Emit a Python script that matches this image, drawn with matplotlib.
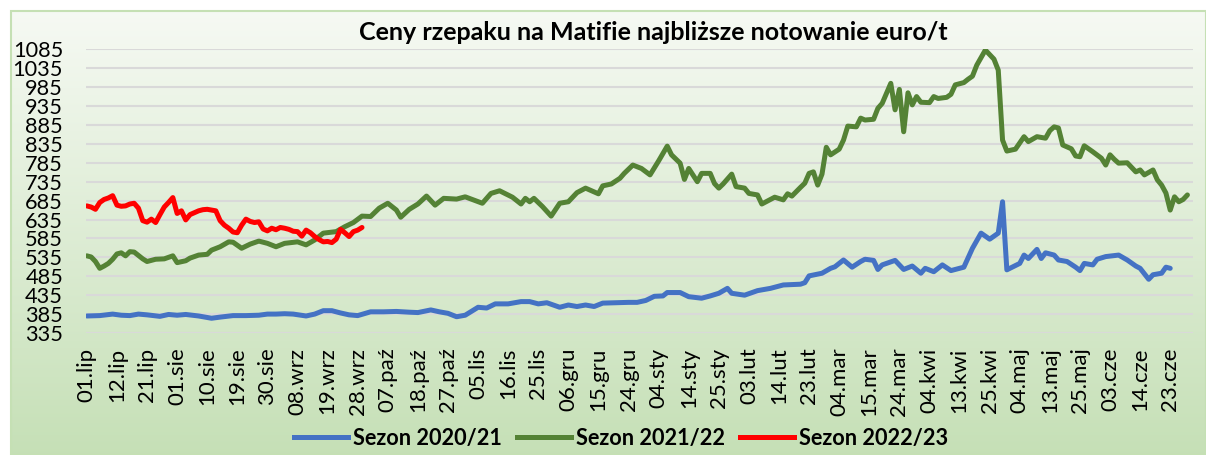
import numpy as np
import matplotlib
matplotlib.use("Agg")
import matplotlib.pyplot as plt
from matplotlib.patches import Rectangle
from matplotlib.lines import Line2D

plt.rcParams['font.family'] = ['Lato', 'DejaVu Sans']

# category axis: trading days of a season, labels every 7 sessions
n_days = 258
tick_labels = ["01.lip", "12.lip", "21.lip", "01.sie", "10.sie", "19.sie", "30.sie",
               "08.wrz", "19.wrz", "28.wrz", "07.paź", "18.paź", "27.paź", "05.lis",
               "16.lis", "25.lis", "06.gru", "15.gru", "24.gru", "04.sty", "14.sty",
               "25.sty", "03.lut", "14.lut", "23.lut", "04.mar", "15.mar", "24.mar",
               "04.kwi", "13.kwi", "25.kwi", "04.maj", "13.maj", "25.maj", "03.cze",
               "14.cze", "23.cze"]
yticks = list(range(335, 1086, 50))

# Sezon 2020/21 (blue)
day_2021 = [0, 3, 6, 8, 10, 12, 14, 17, 19, 21, 23, 26, 29, 31, 34, 37, 40, 42, 44, 46,
            48, 51, 53, 55, 57, 59, 61, 63, 66, 69, 72, 75, 77, 80, 82, 84, 86, 88, 91, 93,
            95, 98, 101, 103, 105, 107, 110, 112, 114, 116, 118, 120, 123, 126, 128, 130,
            132, 134, 135, 138, 140, 143, 145, 147, 149, 150, 153, 156, 159, 162, 166, 167,
            168, 171, 173, 174, 176, 178, 180, 181, 183, 184, 185, 188, 190, 192, 194, 195,
            197, 199, 201, 204, 206, 208, 210, 212, 213, 214, 217, 218, 219, 221, 222, 223,
            225, 226, 228, 230, 231, 232, 234, 235, 237, 240, 242, 244, 245, 247, 248, 250,
            251, 252]
val_2021 = [380, 381, 385, 382, 381, 385, 383, 379, 384, 382, 384, 380, 374, 377, 381, 381,
            382, 385, 385, 386, 385, 380, 385, 394, 394, 388, 383, 381, 391, 391, 392, 390,
            389, 396, 391, 387, 378, 382, 403, 401, 412, 412, 418, 418, 412, 415, 403, 409,
            405, 409, 405, 414, 415, 416, 416, 421, 432, 433, 442, 442, 431, 427, 433, 440,
            453, 440, 435, 447, 453, 462, 464, 468, 486, 493, 506, 510, 528, 509, 524, 530,
            527, 503, 515, 527, 503, 512, 493, 506, 497, 515, 500, 509, 559, 599, 583, 599,
            682, 502, 519, 541, 532, 556, 532, 547, 541, 528, 524, 509, 500, 519, 515, 530,
            537, 541, 528, 512, 506, 477, 489, 493, 509, 506]

# Sezon 2021/22 (green)
day_2122 = [0, 1, 2, 3, 4, 5, 6, 7, 8, 9, 10, 11, 12, 13, 14, 16, 18, 20, 21, 23, 24, 26,
            28, 29, 31, 33, 34, 36, 38, 40, 42, 44, 46, 49, 51, 53, 55, 58, 60, 62, 64, 66,
            68, 70, 72, 73, 75, 77, 79, 81, 83, 86, 88, 92, 94, 96, 99, 101, 102, 103, 104,
            106, 108, 110, 112, 114, 116, 119, 120, 122, 124, 125, 127, 129, 131, 133, 135,
            136, 138, 139, 140, 142, 143, 145, 146, 147, 148, 150, 151, 153, 154, 156, 157,
            158, 160, 162, 163, 164, 166, 167, 168, 169, 170, 171, 172, 173, 175, 176, 177,
            179, 180, 181, 183, 184, 185, 187, 188, 189, 190, 191, 192, 193, 194, 196, 197,
            198, 200, 201, 202, 204, 205, 206, 207, 209, 210, 211, 212, 213, 214, 216, 218,
            219, 221, 223, 224, 225, 226, 227, 229, 230, 231, 232, 234, 236, 237, 238, 239,
            240, 242, 244, 245, 246, 248, 249, 250, 251, 252, 253, 254, 255, 256]
val_2122 = [539, 536, 524, 506, 512, 519, 530, 544, 547, 539, 550, 549, 540, 531, 524, 530,
            531, 539, 521, 526, 533, 541, 543, 554, 563, 576, 575, 559, 570, 578, 572, 563,
            572, 576, 568, 581, 599, 603, 616, 627, 644, 643, 665, 678, 660, 641, 662, 676,
            697, 673, 691, 689, 695, 678, 704, 711, 694, 676, 691, 682, 691, 669, 644, 678,
            682, 706, 718, 703, 724, 729, 744, 757, 779, 770, 753, 790, 829, 806, 784, 741,
            770, 735, 757, 757, 730, 718, 729, 755, 722, 718, 704, 700, 676, 682, 694, 687,
            703, 697, 720, 731, 757, 761, 726, 755, 826, 806, 821, 845, 882, 880, 903, 898,
            900, 929, 942, 995, 925, 979, 867, 970, 938, 960, 945, 944, 960, 955, 958, 966,
            991, 997, 1006, 1014, 1043, 1083, 1071, 1059, 1030, 845, 816, 821, 854, 841, 854,
            850, 870, 880, 877, 832, 822, 803, 801, 830, 814, 797, 779, 806, 794, 784, 785,
            761, 766, 753, 766, 740, 726, 705, 660, 695, 682, 688, 700]

# Sezon 2022/23 (red)
day_2223 = list(range(65))
val_2223 = [671, 668, 662, 680, 688, 692, 698, 673, 670, 671, 676, 678, 665, 632, 628, 636,
            627, 648, 668, 680, 693, 651, 658, 634, 648, 653, 658, 661, 662, 660, 658, 632,
            620, 612, 602, 600, 620, 636, 630, 627, 629, 610, 605, 612, 608, 614, 612, 609,
            604, 603, 591, 607, 600, 590, 582, 576, 577, 574, 583, 609, 600, 590, 603, 607,
            614]

series = [("Sezon 2020/21", day_2021, val_2021, "#4472C4"),
          ("Sezon 2021/22", day_2122, val_2122, "#548235"),
          ("Sezon 2022/23", day_2223, val_2223, "#FF0000")]

W, H = 1206, 455
fig = plt.figure(figsize=(W / 100, H / 100), dpi=100)

# gradient chart background with thin green frame
bg = fig.add_axes([11 / W, 0, 1 - 11 / W, 1 - 11 / H], zorder=-5)
top_c = np.array([0.965, 0.978, 0.955])
bot_c = np.array([0.775, 0.878, 0.715])
t = np.linspace(0, 1, 256)[:, None]
grad = (top_c * (1 - t) + bot_c * t)[:, None, :]
bg.imshow(grad, aspect="auto", extent=[0, 1, 0, 1])
bg.add_patch(Rectangle((0, 0), 1, 1, transform=bg.transAxes, fill=False,
                       edgecolor="#c5e0b4", linewidth=1.5, clip_on=False))
bg.axis("off")

ax = fig.add_axes([86 / W, 1 - 333 / H, (1193 - 86) / W, (333 - 49.3) / H])
ax.set_facecolor("none")
for label, d, v, c in series:
    ax.plot(d, v, color=c, linewidth=3.6, solid_joinstyle="round",
            solid_capstyle="round", label=label, zorder=3)

ax.set_ylim(335, 1085)
ax.set_xlim(-0.2, 257.3)
ax.set_yticks(yticks)
ax.set_yticklabels([str(y) for y in yticks])
ax.set_xticks(np.arange(len(tick_labels)) * 7)
ax.set_xticklabels(tick_labels, rotation=90, va="top", ha="center")
ax.tick_params(axis="y", length=0, pad=16.5, labelsize=15.7, colors="black")
ax.tick_params(axis="x", length=0, pad=10.5, labelsize=16, colors="black")
ax.grid(axis="y", color="#d9d9d9", linewidth=1.5, zorder=0)
ax.set_axisbelow(True)
for s in ax.spines.values():
    s.set_visible(False)

fig.text(653.5 / W, 1 - 33 / H, "Ceny rzepaku na Matifie najbliższe notowanie euro/t",
         ha="center", va="center", fontsize=18, fontweight="bold")

handles = [Line2D([], [], color=c, linewidth=3.6) for _, _, _, c in series]
fig.legend(handles, [s[0] for s in series], loc="center",
           bbox_to_anchor=(621 / W, 1 - 438 / H), ncol=3, frameon=False,
           prop={"weight": "bold", "size": 15.6}, handlelength=2.5,
           handletextpad=0.23, columnspacing=0.7)

fig.savefig("out.png", dpi=100)
